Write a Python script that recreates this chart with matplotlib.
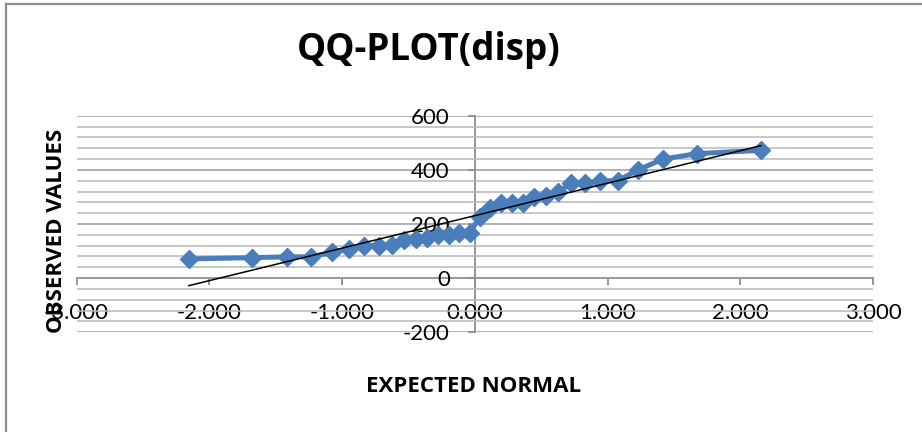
import numpy as np
import matplotlib
matplotlib.use("Agg")
import matplotlib.pyplot as plt
from matplotlib.lines import Line2D
from matplotlib.ticker import MultipleLocator, FixedLocator

plt.rcParams['font.family'] = ['Lato', 'DejaVu Sans']
BOLD_FAMILY = ['Open Sans', 'DejaVu Sans']

# Expected normal quantiles (rank-based) and sorted observed displacement
expected_normal = [-2.154, -1.676, -1.418, -1.230, -1.078, -0.947, -0.831, -0.725,
                   -0.626, -0.533, -0.445, -0.360, -0.278, -0.197, -0.118, -0.039,
                   0.039, 0.118, 0.197, 0.278, 0.360, 0.445, 0.533, 0.626,
                   0.725, 0.831, 0.947, 1.078, 1.230, 1.418, 1.676, 2.154]
observed_values = [71.1, 75.7, 78.7, 79.0, 95.1, 108.0, 120.1, 120.3,
                   121.0, 140.8, 145.0, 146.7, 160.0, 160.0, 167.6, 167.6,
                   225.0, 258.0, 275.8, 275.8, 275.8, 301.0, 304.0, 318.0,
                   350.0, 351.0, 360.0, 360.0, 400.0, 440.0, 460.0, 472.0]
x_ticks = [-3, -2, -1, 0, 1, 2, 3]
y_ticks = [-200, 0, 200, 400, 600]

W, H = 922, 432
fig = plt.figure(figsize=(W / 100, H / 100), dpi=100)
ax = fig.add_axes([76.5 / W, 99.7 / H, (873 - 76.5) / W, 216.6 / H])

x = np.array(expected_normal)
y = np.array(observed_values)

# gridlines: major every 200, minor every 40
ax.set_xlim(-3, 3)
ax.set_ylim(-200, 600)
ax.yaxis.set_major_locator(FixedLocator(y_ticks))
ax.yaxis.set_minor_locator(MultipleLocator(40))
ax.grid(True, axis='y', which='major', color='#9c9c9c', lw=1.1, zorder=0)
ax.grid(True, axis='y', which='minor', color='#b8b8b8', lw=1.1, zorder=0)
ax.tick_params(axis='y', which='minor', length=0)

for s in ['top', 'right']:
    ax.spines[s].set_visible(False)
ax.spines['bottom'].set_position(('data', 0))
ax.spines['left'].set_position(('data', 0))
for s in ['bottom', 'left']:
    ax.spines[s].set_color('#8c8c8c')
    ax.spines[s].set_linewidth(1.3)
    ax.spines[s].set_zorder(1)

ax.set_xticks(x_ticks)
ax.set_xticklabels([f"{v:.3f}" for v in x_ticks])
ax.set_yticklabels([str(v) for v in y_ticks])
ax.tick_params(axis='x', which='major', direction='out', length=5, width=1.3,
               color='#8c8c8c', pad=13, labelsize=16, labelcolor='black')
ax.tick_params(axis='y', which='major', direction='out', length=5, width=1.3,
               color='#8c8c8c', pad=13, labelsize=16, labelcolor='black')

# data series
ax.plot(x, y, color='#4A7EBB', lw=3.6, marker='D', ms=9.5,
        markerfacecolor='#4A7EBB', markeredgecolor='#4A7EBB', zorder=3)

# linear trend line
slope, intercept = np.polyfit(x, y, 1)
xl = np.array([x.min(), x.max()])
ax.plot(xl, slope * xl + intercept, color='black', lw=1.1, zorder=4)

fig.text(428.5 / W, 1 - 50 / H, 'QQ-PLOT(disp)', ha='center', va='center',
         fontsize=26.5, fontweight='bold', family=BOLD_FAMILY)
fig.text(474 / W, 1 - 386 / H, 'EXPECTED NORMAL', ha='center', va='center',
         fontsize=16, fontweight='bold', family=BOLD_FAMILY)
fig.text(57 / W, 1 - 231 / H, 'OBSERVED VALUES', ha='center', va='center',
         rotation=90, fontsize=16, fontweight='bold', family=BOLD_FAMILY)

# chart frame (left and top edges)
fig.add_artist(Line2D([6 / W, 6 / W], [0, 1 - 4 / H], transform=fig.transFigure,
                      color='#8c8c8c', lw=1.6))
fig.add_artist(Line2D([6 / W, 1], [1 - 4 / H, 1 - 4 / H], transform=fig.transFigure,
                      color='#8c8c8c', lw=1.6))

fig.savefig('out.png', dpi=100)
